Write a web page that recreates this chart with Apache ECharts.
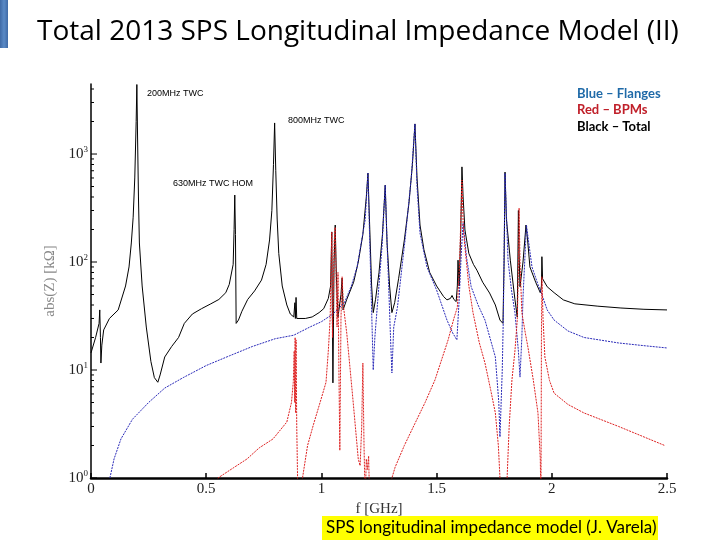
<!DOCTYPE html>
<html><head><meta charset="utf-8">
<script src="https://cdn.jsdelivr.net/npm/echarts@6/dist/echarts.min.js"></script>
<style>html,body{margin:0;padding:0;background:#fff}#c{width:720px;height:540px}</style>
</head><body><div id="c"></div>
<script>
// Frequencies (GHz) and |Z| (kOhm)
const totalF = [0.000,0.020,0.035,0.038,0.041,0.043,0.047,0.055,0.080,0.118,0.150,0.165,0.175,0.183,0.190,0.196,0.199,0.202,0.206,0.210,0.222,0.240,0.260,0.275,0.290,0.300,0.320,0.350,0.380,0.405,0.440,0.480,0.520,0.555,0.585,0.600,0.617,0.621,0.624,0.627,0.630,0.640,0.655,0.680,0.710,0.740,0.760,0.775,0.785,0.792,0.797,0.802,0.808,0.815,0.830,0.850,0.865,0.880,0.885,0.887,0.890,0.893,0.900,0.930,0.960,0.990,1.010,1.030,1.040,1.045,1.050,1.055,1.060,1.065,1.072,1.085,1.090,1.094,1.110,1.140,1.160,1.180,1.195,1.202,1.210,1.218,1.225,1.235,1.250,1.265,1.277,1.285,1.296,1.306,1.318,1.335,1.360,1.380,1.395,1.406,1.415,1.428,1.445,1.470,1.500,1.530,1.545,1.560,1.567,1.575,1.585,1.590,1.593,1.598,1.605,1.610,1.615,1.623,1.640,1.660,1.675,1.700,1.730,1.755,1.775,1.788,1.793,1.797,1.803,1.820,1.840,1.850,1.855,1.858,1.862,1.875,1.888,1.895,1.905,1.930,1.950,1.955,1.957,1.960,1.980,2.010,2.050,2.100,2.200,2.300,2.400,2.500];
const totalZ = [14.4,20,27,36,20,11.6,17,23.5,30,36,60,90,150,260,600,2000,4400,1500,400,150,60,25,12,8.5,7.7,9,13.2,16.5,20,27,33,37,41,45,52,62,95,200,417,180,27,29,35,45,54,68,95,160,300,800,1940,700,250,120,60,40,33,31,42,30,47,30,29,30,31,34,37,46,60,190,7.6,100,220,73,31,50,71,36,45,65,100,180,400,665,200,60,34,45,80,180,515,150,60,34,42,70,160,350,800,1900,600,220,130,80,60,48,44.6,46,49,45,43,60,104,60,200,760,400,198,120,95,84,65,51.6,40,29,27,100,680,250,104,45,31,300,120,59,100,220,160,90,65,52,60,112,70,59,52,44.6,41,39,37.5,36.5,36];

const flangesF = [0.060,0.082,0.100,0.130,0.180,0.250,0.320,0.400,0.500,0.600,0.700,0.800,0.880,0.950,1.000,1.050,1.100,1.130,1.155,1.175,1.190,1.202,1.210,1.218,1.225,1.232,1.245,1.263,1.277,1.285,1.292,1.300,1.306,1.314,1.330,1.363,1.390,1.406,1.415,1.428,1.458,1.500,1.545,1.570,1.588,1.598,1.607,1.615,1.630,1.650,1.680,1.710,1.755,1.770,1.775,1.785,1.790,1.797,1.810,1.825,1.840,1.855,1.862,1.870,1.875,1.890,1.900,1.914,1.940,1.957,1.980,2.010,2.070,2.140,2.290,2.400,2.500];
const flangesZ = [0.5,1.0,1.5,2.3,3.5,5.0,6.8,8.5,11,13.5,16.5,19.5,21,25,28,33,42,60,90,160,245,665,150,36,10,20,45,138,515,150,60,20,9.4,25,38,160,600,1900,500,185,90,55,29,22,19,45,120,230,110,59,40,29,13.2,5,2.4,10,34,665,104,55,34,15,8.6,20,47,220,150,90,62,50,36,29,23,20,17.8,16.8,16];

const bpmF = [0.530,0.551,0.620,0.677,0.730,0.790,0.850,0.870,0.878,0.882,0.884,0.886,0.888,0.890,0.893,0.896,0.900,0.912,0.918,0.940,0.965,1.000,1.020,1.030,1.038,1.045,1.048,1.052,1.056,1.060,1.064,1.068,1.072,1.076,1.080,1.085,1.090,1.095,1.110,1.137,1.160,1.168,1.175,1.180,1.185,1.190,1.195,1.200,1.205,1.210,1.300,1.306,1.320,1.360,1.406,1.450,1.493,1.550,1.575,1.590,1.600,1.606,1.610,1.616,1.623,1.640,1.658,1.685,1.710,1.735,1.755,1.768,1.775,1.780,1.800,1.806,1.815,1.827,1.840,1.850,1.855,1.858,1.862,1.870,1.885,1.897,1.920,1.940,1.950,1.953,1.955,1.957,1.962,1.970,1.990,2.010,2.070,2.140,2.290,2.400,2.490];
const bpmZ = [0.6,1.0,1.25,1.5,1.9,2.3,3.3,5,7.7,15,5,20,4,19,3,1.2,0.4,0.4,1.0,2.0,3.1,5.5,7.7,15,30,190,20,60,160,210,70,25,80,10,1.8,30,73,40,22,5.3,1.5,1.3,3,11.6,2,0.6,1.5,1.2,1.6,0.5,0.5,1.0,1.26,2.0,3.2,5.0,8.1,19,30,38,100,300,575,200,138,60,34,18,11.6,6.5,4.0,2,1.0,0.4,0.4,1.0,3,8.1,15,29,80,316,100,34,22,16,8,4,1.5,0.6,20,73,30,13.2,8,6.1,4.8,4.0,3.0,2.4,2.0];

const xTicks = [0, 0.5, 1, 1.5, 2, 2.5];
const yDecades = [1, 10, 100, 1000];
const yMax = 4450;

const zip = (a, b) => a.map((v, i) => [v, b[i]]);
const minorTicks = [];
yDecades.forEach(d => { for (let m = 1; m <= 9; m++) { const v = m * d; if (v <= yMax) minorTicks.push([0, v, m === 1 ? 1 : 0]); } });

const chart = echarts.init(document.getElementById('c'), null, {renderer: 'canvas'});
const serif = '"Liberation Serif", "DejaVu Serif", serif';
chart.setOption({
  animation: false,
  backgroundColor: '#fff',
  grid: {left: 91, right: 53, top: 84, bottom: 62, containLabel: false},
  xAxis: {
    type: 'value', min: 0, max: 2.5, interval: 0.5,
    name: 'f [GHz]', nameLocation: 'middle', nameGap: 17,
    nameTextStyle: {fontFamily: serif, fontSize: 15, color: '#333'},
    axisLine: {show: true, lineStyle: {color: '#000', width: 2.5}},
    axisTick: {show: true, inside: true, length: 5, lineStyle: {color: '#000', width: 1.5}},
    axisLabel: {fontFamily: serif, fontSize: 15, color: '#222', margin: 4,
      formatter: v => (xTicks.indexOf(v) >= 0 ? String(v) : '')},
    splitLine: {show: false}
  },
  yAxis: {
    type: 'log', logBase: 10, min: 1, max: yMax,
    name: 'abs(Z) [kΩ]', nameLocation: 'middle', nameGap: 28,
    nameTextStyle: {fontFamily: serif, fontSize: 15, color: '#888'},
    axisLine: {show: true, lineStyle: {color: '#000', width: 1.5}},
    axisTick: {show: false},
    axisLabel: {margin: 3,
      formatter: v => {
        const k = Math.log10(v);
        if (Math.abs(k - Math.round(k)) > 1e-6) return '';
        return '{b|10}{s|' + Math.round(k) + '}';
      },
      rich: {
        b: {fontFamily: serif, fontSize: 15, color: '#222'},
        s: {fontFamily: serif, fontSize: 9, color: '#222', verticalAlign: 'top', padding: [0, 0, 8, 0]}
      }
    },
    splitLine: {show: false}
  },
  series: [
    {type: 'custom', name: 'ticks', coordinateSystem: 'cartesian2d', silent: true, z: 5,
      data: minorTicks,
      renderItem: (params, api) => {
        const p = api.coord([api.value(0), api.value(1)]);
        const len = api.value(2) ? 6 : 3;
        return {type: 'line', shape: {x1: p[0], y1: p[1], x2: p[0] + len, y2: p[1]},
          style: {stroke: '#000', lineWidth: 1}};
      }},
    {type: 'line', name: 'Total', data: zip(totalF, totalZ), showSymbol: false, symbol: 'none',
      lineStyle: {color: '#000', width: 1}, z: 2},
    {type: 'line', name: 'Flanges', data: zip(flangesF, flangesZ), showSymbol: false, symbol: 'none',
      lineStyle: {color: '#2a2ab8', width: 1, type: [2, 1]}, z: 3},
    {type: 'line', name: 'BPMs', data: zip(bpmF, bpmZ), showSymbol: false, symbol: 'none',
      lineStyle: {color: '#dd2020', width: 1, type: [2, 1]}, z: 4}
  ],
  graphic: [
    {type: 'rect', left: 0, top: 0, shape: {width: 8, height: 48},
      style: {fill: new echarts.graphic.LinearGradient(0, 0, 1, 0, [
        {offset: 0, color: '#3f6aa6'}, {offset: 0.5, color: '#5a8ac6'}, {offset: 1, color: '#3f6aa6'}])}},
    {type: 'text', left: 37, top: 18, style: {text: 'Total 2013 SPS Longitudinal Impedance Model (II)',
      font: '28px "Open Sans", Lato, sans-serif', fill: '#000'}},
    {type: 'text', left: 577, top: 87, style: {text: 'Blue – Flanges', font: 'bold 13px Lato, sans-serif', fill: '#1f6aa8'}},
    {type: 'text', left: 577, top: 103, style: {text: 'Red – BPMs', font: 'bold 13px Lato, sans-serif', fill: '#c0202a'}},
    {type: 'text', left: 577, top: 120, style: {text: 'Black – Total', font: 'bold 13px Lato, sans-serif', fill: '#000'}},
    {type: 'text', left: 147, top: 89, style: {text: '200MHz TWC', font: '9px "Liberation Sans", sans-serif', fill: '#000'}},
    {type: 'text', left: 288, top: 116, style: {text: '800MHz TWC', font: '9px "Liberation Sans", sans-serif', fill: '#000'}},
    {type: 'text', left: 173, top: 179, style: {text: '630MHz TWC HOM', font: '9px "Liberation Sans", sans-serif', fill: '#000'}},
    {type: 'rect', left: 322, top: 516, shape: {width: 336, height: 24}, style: {fill: '#ffff00'}},
    {type: 'text', left: 326, top: 519, style: {text: 'SPS longitudinal impedance model (J. Varela)',
      font: '17px Lato, sans-serif', fill: '#000'}}
  ]
});
</script></body></html>
